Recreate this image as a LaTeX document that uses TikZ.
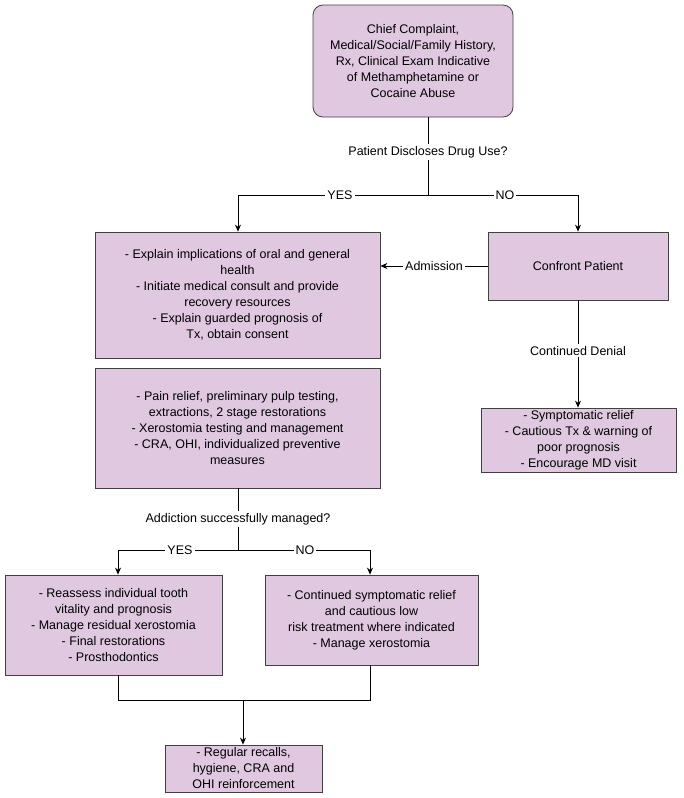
\documentclass[tikz,border=0pt]{standalone}
\usepackage{fontspec}
\setmainfont{Liberation Sans}
\usetikzlibrary{arrows.meta}
\begin{document}
\begin{tikzpicture}[x=1pt,y=-1pt,
 box/.style={draw=black!75,fill=violet!20!white!95!gray,line width=0.8pt,align=center,inner sep=2pt,font=\fontsize{12.5}{16}\selectfont},
 lab/.style={fill=white,inner sep=2pt,font=\fontsize{12.5}{16}\selectfont},
 arr/.style={-{Stealth[length=7pt,width=6pt]},line width=0.8pt},
 ln/.style={line width=0.8pt}]
\useasboundingbox (0,0) rectangle (683,798);
\node[box,rounded corners=10pt,minimum width=200pt,minimum height=112pt] (top) at (413,61) {Chief Complaint,\\Medical/Social/Family History,\\Rx, Clinical Exam Indicative\\of Methamphetamine or\\Cocaine Abuse};
\node[lab] (q1) at (428,152) {Patient Discloses Drug Use?};
\coordinate (j1) at (428,195);
\coordinate (l1) at (238,195);
\coordinate (r1) at (578,195);
\node[box,minimum width=285pt,minimum height=126pt] (A) at (237.5,295) {- Explain implications of oral and general\\health\\- Initiate medical consult and provide\\recovery resources\\- Explain guarded prognosis of\\Tx, obtain consent};
\node[box,minimum width=180pt,minimum height=68pt] (conf) at (578,266) {Confront Patient};
\node[box,minimum width=195pt,minimum height=64pt] (sym) at (578.5,440) {- Symptomatic relief\\- Cautious Tx \& warning of\\poor prognosis\\- Encourage MD visit};
\node[box,minimum width=285pt,minimum height=120pt] (B) at (237.5,428) {- Pain relief, preliminary pulp testing,\\extractions, 2 stage restorations\\- Xerostomia testing and management\\- CRA, OHI, individualized preventive\\measures};
\node[lab] (q2) at (238,519) {Addiction successfully managed?};
\coordinate (j2) at (238,550);
\coordinate (l2) at (118,550);
\coordinate (r2) at (370,550);
\node[box,minimum width=217pt,minimum height=100pt] (C) at (113.5,625) {- Reassess individual tooth\\vitality and prognosis\\- Manage residual xerostomia\\- Final restorations\\- Prosthodontics};
\node[box,minimum width=213pt,minimum height=90pt] (D) at (371.5,620) {- Continued symptomatic relief\\and cautious low\\risk treatment where indicated\\- Manage xerostomia};
\node[box,minimum width=157pt,minimum height=47pt] (E) at (243.5,768.5) {- Regular recalls,\\hygiene, CRA and\\OHI reinforcement};
\coordinate (cb) at (118,700);
\coordinate (db) at (370,700);
\coordinate (eb) at (243,700);
% connectors
\draw[ln] (top.south -| q1) -- (q1);
\draw[ln] (q1) -- (j1);
\draw[ln] (l1) -- (r1);
\draw[arr] (l1) -- (A.north -| l1);
\draw[arr] (r1) -- (conf.north);
\node[lab] at (340,195) {YES};
\node[lab] at (505,195) {NO};
\draw[arr] (conf.west) -- node[lab]{Admission} (A.east |- conf.west);
\draw[arr] (conf.south) -- node[lab,pos=0.47]{Continued Denial} (sym.north -| conf.south);
\draw[ln] (B.south -| q2) -- (q2);
\draw[ln] (q2) -- (j2);
\draw[ln] (l2) -- (r2);
\draw[arr] (l2) -- (C.north -| l2);
\draw[arr] (r2) -- (D.north -| r2);
\node[lab] at (180,550) {YES};
\node[lab] at (305,550) {NO};
\draw[ln] (C.south -| cb) -- (cb) -- (db) -- (D.south -| db);
\draw[arr] (eb) -- (E.north -| eb);
\end{tikzpicture}
\end{document}
